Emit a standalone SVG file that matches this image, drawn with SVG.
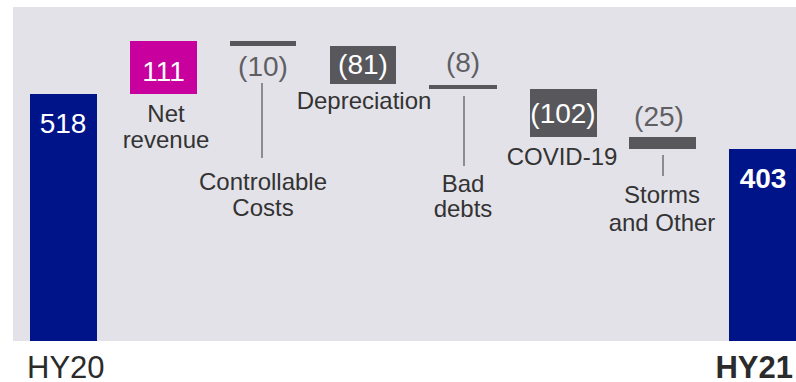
<svg xmlns="http://www.w3.org/2000/svg" width="796" height="382" viewBox="0 0 796 382">
<style>
text{font-family:"Liberation Sans",Arial,sans-serif;text-anchor:middle}
.val{font-size:28px;fill:#ffffff}
.neg{font-size:28px;fill:#5f5f63}
.lab{font-size:24px;fill:#333333}
.axis{font-size:31px;fill:#2b2b2b}
.blue{fill:#00148a}
.dark{fill:#58575c}
.lead{stroke:#6e6e72;stroke-width:1.5}
</style>
<rect id="background" x="13" y="7" width="783" height="334" fill="#e3e2e9"/>
<g id="connectors">
<line class="lead" x1="262" y1="83" x2="262" y2="158"/>
<line class="lead" x1="464" y1="96" x2="464" y2="166"/>
<line class="lead" x1="663" y1="155" x2="663" y2="176"/>
</g>
<g id="hy20">
<rect class="blue" x="30" y="94" width="67" height="247"/>
<text class="val" x="63" y="133">518</text>
<text class="axis" x="27" y="378" style="text-anchor:start">HY20</text>
</g>
<g id="net-revenue">
<rect x="130" y="41" width="67" height="53" fill="#c8009e"/>
<text class="val" x="163.5" y="81">111</text>
<text class="lab" x="166" y="122">Net</text>
<text class="lab" x="166" y="148">revenue</text>
</g>
<g id="controllable-costs">
<rect class="dark" x="230" y="41" width="66" height="5"/>
<text class="neg" x="263" y="76">(10)</text>
<text class="lab" x="263" y="190">Controllable</text>
<text class="lab" x="263" y="216">Costs</text>
</g>
<g id="depreciation">
<rect class="dark" x="330" y="46" width="66" height="38"/>
<text class="val" x="363" y="74">(81)</text>
<text class="lab" x="364" y="109">Depreciation</text>
</g>
<g id="bad-debts">
<rect class="dark" x="429" y="85" width="68" height="4"/>
<text class="neg" x="463" y="72">(8)</text>
<text class="lab" x="463" y="192">Bad</text>
<text class="lab" x="463" y="217">debts</text>
</g>
<g id="covid-19">
<rect class="dark" x="530" y="89" width="67" height="48"/>
<text class="val" x="563" y="123">(102)</text>
<text class="lab" x="562" y="165">COVID-19</text>
</g>
<g id="storms-other">
<rect class="dark" x="629" y="137" width="67" height="12"/>
<text class="neg" x="659" y="126">(25)</text>
<text class="lab" x="662" y="203">Storms</text>
<text class="lab" x="662" y="231">and Other</text>
</g>
<g id="hy21">
<rect class="blue" x="729" y="149" width="67" height="192"/>
<text class="val" x="763" y="188" style="font-weight:bold">403</text>
<text class="axis" x="793" y="378" style="text-anchor:end;font-weight:bold">HY21</text>
</g>
</svg>
